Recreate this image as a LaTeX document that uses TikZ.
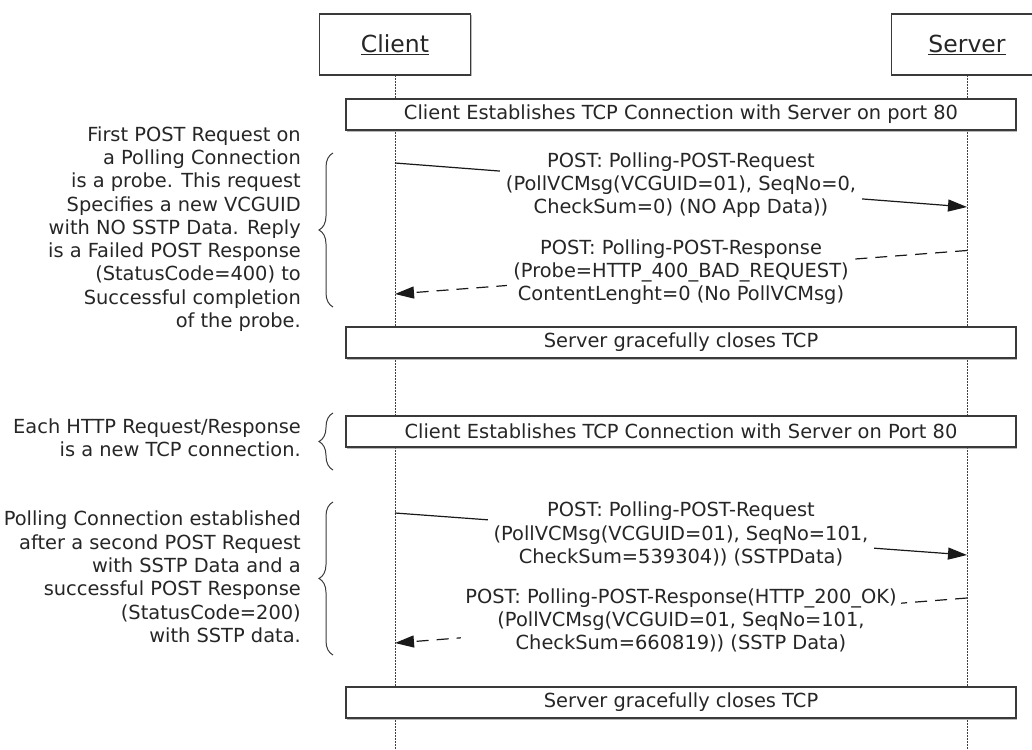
\documentclass[tikz,border=0pt]{standalone}
\usepackage{fontspec}
\setmainfont{DejaVu Sans}
\usetikzlibrary{arrows.meta,decorations.pathreplacing,shadows}
\definecolor{ink}{HTML}{262626}
\definecolor{edge}{HTML}{3A3A3A}
\tikzset{
  shade/.style={drop shadow={shadow xshift=1.2pt, shadow yshift=-1.5pt, fill=black!45, opacity=0.6}},
  actor/.style={draw=edge, line width=1.3pt, fill=white, shade, minimum width=151pt, minimum height=61pt, inner sep=0pt, text=ink, font=\fontsize{23.5}{28}\selectfont},
  bar/.style={draw=edge, line width=1.3pt, fill=white, shade, minimum width=670pt, minimum height=31pt, inner sep=0pt, text=ink},
  lifeline/.style={draw=black!75, line width=0.9pt, dash pattern=on 1.6pt off 1.4pt},
  msg/.style={draw=black!90, line width=1.2pt, -{Triangle[length=19pt,width=12pt]}},
  reply/.style={msg, dash pattern=on 12pt off 8pt},
  lbl/.style={fill=white, align=center, inner sep=6pt, text=ink},
  note/.style={align=right, anchor=east, inner sep=0pt, text=ink},
  curly/.style={draw=edge, line width=1pt, decorate, decoration={brace, amplitude=14pt}},
}
\begin{document}
\begin{tikzpicture}[x=1pt, y=-1pt, font=\fontsize{19.4}{23.3}\selectfont]
\useasboundingbox (0,0) rectangle (1032,749);
\clip (0,0) rectangle (1032,749);
% lifelines
\coordinate (cl0) at (395,75);
\coordinate (cl1) at (395,749);
\coordinate (sl0) at (967,75);
\coordinate (sl1) at (967,749);
\draw[lifeline] (cl0) -- (cl1);
\draw[lifeline] (sl0) -- (sl1);
% actors
\node[actor] (client) at (395,44.5) {\underline{Client}};
\node[actor] (server) at (967,44.5) {\underline{Server}};
% bars
\node[bar] (bar1) at (681,114.5) {Client Establishes TCP Connection with Server on port 80};
\node[bar] (bar2) at (681,342.5) {Server gracefully closes TCP};
\node[bar] (bar3) at (681,431.5) {Client Establishes TCP Connection with Server on Port 80};
\node[bar] (bar4) at (681,702.5) {Server gracefully closes TCP};
% message end points
\coordinate (c1) at (395,163);
\coordinate (s1) at (967,207);
\coordinate (s2) at (967,250.5);
\coordinate (c2) at (395,294);
\coordinate (c3) at (395,513);
\coordinate (s3) at (967,555);
\coordinate (s4) at (967,598);
\coordinate (c4) at (395,643);
\draw[msg] (c1) -- node[lbl] (m1) {POST: Polling-POST-Request\\(PollVCMsg(VCGUID=01), SeqNo=0,\\CheckSum=0) (NO App Data))} (s1);
\draw[reply] (s2) -- node[lbl] (m2) {POST: Polling-POST-Response\\(Probe=HTTP\_400\_BAD\_REQUEST)\\ContentLenght=0 (No PollVCMsg)} (c2);
\draw[msg] (c3) -- node[lbl] (m3) {POST: Polling-POST-Request\\(PollVCMsg(VCGUID=01), SeqNo=101,\\CheckSum=539304)) (SSTPData)} (s3);
\draw[reply] (s4) -- node[lbl, inner sep=4pt] (m4) {POST: Polling-POST-Response(HTTP\_200\_OK)\\(PollVCMsg(VCGUID=01, SeqNo=101,\\CheckSum=660819)) (SSTP Data)} (c4);
% notes
\node[note] (n1) at (301,229) {First POST Request on\\a Polling Connection\\is a probe. This request\\Specifies a new VCGUID\\with NO SSTP Data. Reply\\is a Failed POST Response\\(StatusCode=400) to\\Successful completion\\of the probe.};
\node[note] (n2) at (301,438) {Each HTTP Request/Response\\is a new TCP connection.};
\node[note] (n3) at (301,577) {Polling Connection established\\after a second POST Request\\with SSTP Data and a\\successful POST Response\\(StatusCode=200)\\with SSTP data.};
% braces
\coordinate (b1a) at (333,307);
\coordinate (b1b) at (333,153);
\coordinate (b2a) at (333,470);
\coordinate (b2b) at (333,413);
\coordinate (b3a) at (333,655);
\coordinate (b3b) at (333,502);
\draw[curly] (b1a) -- (b1b);
\draw[curly] (b2a) -- (b2b);
\draw[curly] (b3a) -- (b3b);
\end{tikzpicture}
\end{document}
